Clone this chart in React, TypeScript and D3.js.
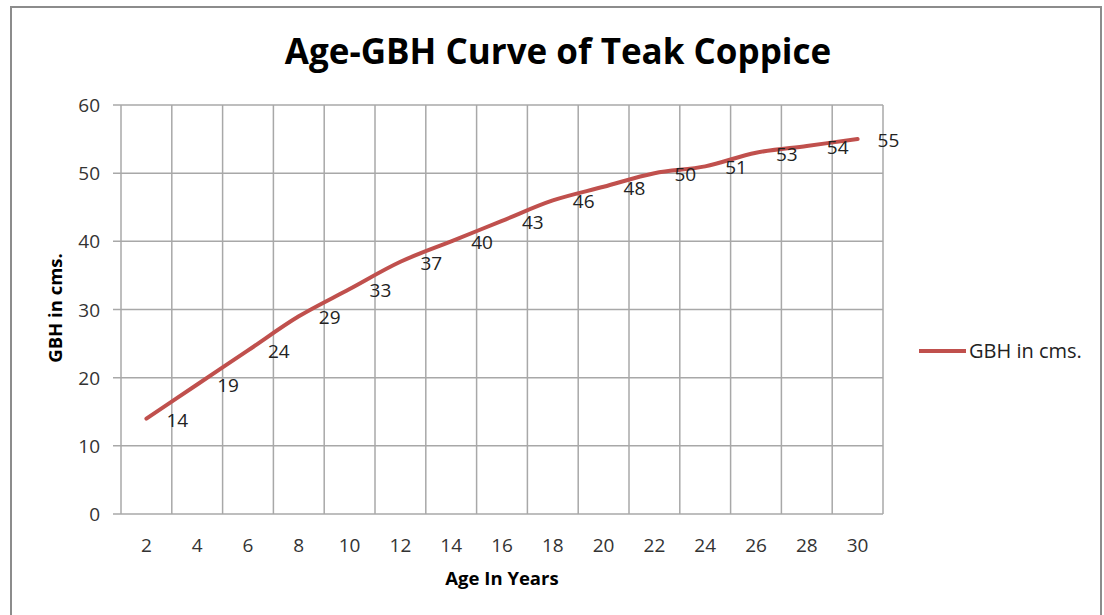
import React from "react";
import * as d3 from "d3";

const ages = ["2", "4", "6", "8", "10", "12", "14", "16", "18", "20", "22", "24", "26", "28", "30"];
const gbh = [14, 19, 24, 29, 33, 37, 40, 43, 46, 48, 50, 51, 53, 54, 55];
const yTicks = [0, 10, 20, 30, 40, 50, 60];

const W = 1104;
const H = 615;
const plot = { left: 121, right: 883, top: 105, bottom: 514 };
const FONT = "'Open Sans', sans-serif";
const LINE = "#C0504D";
const GRID = "#A8A8A8";

export default function App() {
  const x = d3.scaleBand<string>().domain(ages).range([plot.left, plot.right]).padding(0);
  const y = d3.scaleLinear().domain([0, 60]).range([plot.bottom, plot.top]);
  const cx = (a: string) => (x(a) as number) + x.bandwidth() / 2;
  const pts: [number, number][] = ages.map((a, i) => [cx(a), y(gbh[i])]);
  const line = d3.line().curve(d3.curveCatmullRom.alpha(0.5))(pts) as string;
  const bounds = ages.map((a) => x(a) as number).concat([plot.right]);

  return (
    <svg width={W} height={H} style={{ position: "absolute", left: 0, top: 0, background: "#fff" }}>
      <rect x={0} y={0} width={W} height={H} fill="#fff" />
      <path d={`M11,${H} V7 H1101 V${H}`} fill="none" stroke="#8c8c8c" strokeWidth={2} />
      <text x={558} y={64} textAnchor="middle" fontFamily={FONT} fontWeight={700} fontSize={35} fill="#000">
        Age-GBH Curve of Teak Coppice
      </text>
      {yTicks.map((t) => (
        <g key={t}>
          <line x1={plot.left - 8} x2={plot.right} y1={y(t)} y2={y(t)} stroke={GRID} strokeWidth={1.5} />
          <text x={100} y={y(t) + 7} textAnchor="end" fontFamily={FONT} fontSize={19} fill="#333">
            {t}
          </text>
        </g>
      ))}
      {bounds.map((b, i) => (
        <line key={i} x1={b} x2={b} y1={plot.top} y2={plot.bottom} stroke={GRID} strokeWidth={1.5} />
      ))}
      {ages.map((a) => (
        <text key={a} x={cx(a)} y={552} textAnchor="middle" fontFamily={FONT} fontSize={19} fill="#333">
          {a}
        </text>
      ))}
      <path d={line} fill="none" stroke={LINE} strokeWidth={4} strokeLinecap="round" />
      {ages.map((a, i) => (
        <text key={a} x={cx(a) + 20} y={y(gbh[i]) + 8} fontFamily={FONT} fontSize={19} fill="#222">
          {gbh[i]}
        </text>
      ))}
      <text x={502} y={585} textAnchor="middle" fontFamily={FONT} fontWeight={700} fontSize={18.5} fill="#000">
        Age In Years
      </text>
      <text
        transform={`translate(62,308) rotate(-90)`}
        textAnchor="middle"
        fontFamily={FONT}
        fontWeight={700}
        fontSize={18.5}
        fill="#000"
      >
        GBH in cms.
      </text>
      <line x1={919} x2={966} y1={351} y2={351} stroke={LINE} strokeWidth={4} />
      <text x={969} y={358} fontFamily={FONT} fontSize={20} fill="#222">
        GBH in cms.
      </text>
    </svg>
  );
}
